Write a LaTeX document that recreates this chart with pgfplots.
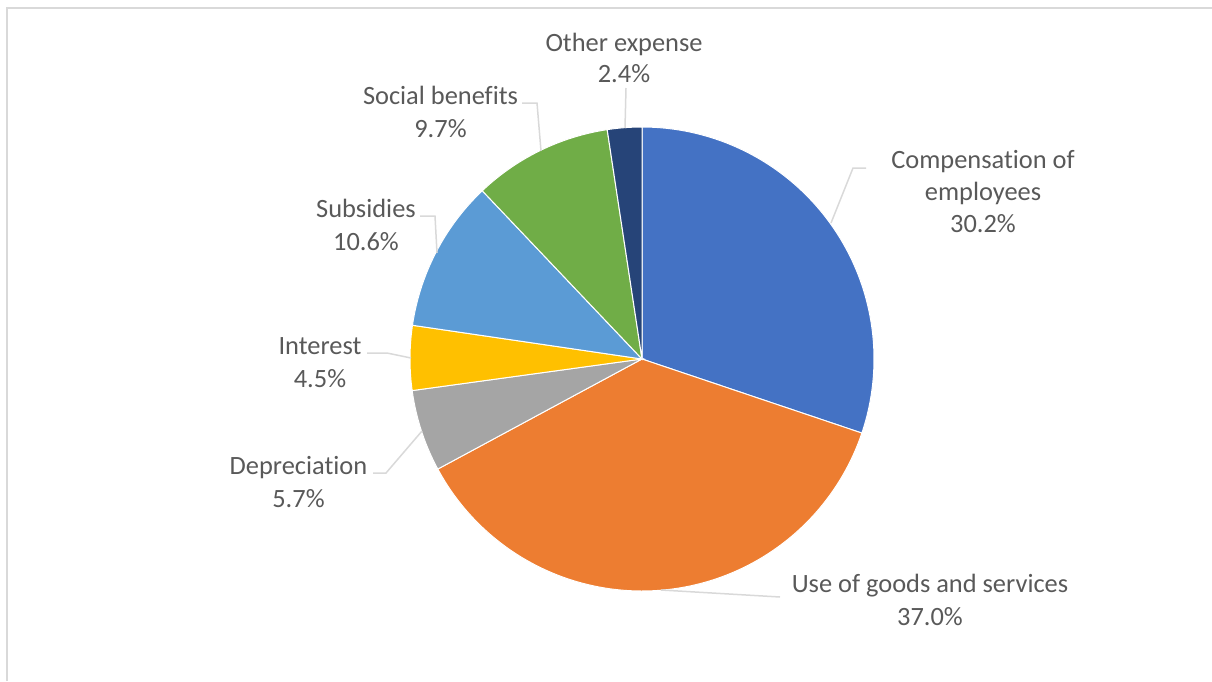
\documentclass[border=0pt]{standalone}
\usepackage{pgfplots}
\pgfplotsset{compat=1.18}
\usepackage{fontspec}
\setmainfont[Ligatures=NoCommon]{Carlito}
\definecolor{c1}{HTML}{4472C4}
\definecolor{c2}{HTML}{ED7D31}
\definecolor{c3}{HTML}{A5A5A5}
\definecolor{c4}{HTML}{FFC000}
\definecolor{c5}{HTML}{5B9BD5}
\definecolor{c6}{HTML}{70AD47}
\definecolor{c7}{HTML}{264478}
\definecolor{txt}{HTML}{595959}
\definecolor{lead}{HTML}{D9D9D9}
\definecolor{frame}{HTML}{D9D9D9}
% #1 = cumulative share before slice, #2 = share, #3 = colour (total 100.1)
\newcommand\pieslice[3]{%
  \pgfmathsetmacro\aS{90-(#1)/100.1*360}%
  \pgfmathsetmacro\aE{90-(#1+#2)/100.1*360}%
  \edef\temp{\noexpand\addplot[fill=#3, draw=white, line width=1pt, domain=\aE:\aS, samples=120, variable=\noexpand\t] ({642+232*cos(\noexpand\t)},{359-232*sin(\noexpand\t)}) -- (axis cs:642,359) -- cycle;}%
  \temp
}
\begin{document}
\begin{tikzpicture}[
  lbl/.style={text=txt, font=\fontsize{26.4}{32}\selectfont, anchor=base, inner sep=0pt},
  ld/.style={draw=lead, line width=1.5pt},
]
\begin{axis}[
  width=1212pt, height=681pt, scale only axis,
  xmin=0, xmax=1212, ymin=0, ymax=681, y dir=reverse,
  hide axis, clip=false,
]
\draw[draw=frame, line width=1.5pt] (axis cs:7,681) -- (axis cs:7,8) -- (axis cs:1212,8);
% values: Compensation 30.2, Use of goods 37.0, Depreciation 5.7, Interest 4.5, Subsidies 10.6, Social benefits 9.7, Other 2.4
\pieslice{0}{30.2}{c1}
\pieslice{30.2}{37.0}{c2}
\pieslice{67.2}{5.7}{c3}
\pieslice{72.9}{4.5}{c4}
\pieslice{77.4}{10.6}{c5}
\pieslice{88.0}{9.7}{c6}
\pieslice{97.7}{2.4}{c7}
% leader lines
\draw[ld] (axis cs:626,88) -- (axis cs:625,128);
\draw[ld] (axis cs:522,103) -- (axis cs:537,103) -- (axis cs:541,151);
\draw[ld] (axis cs:420,216) -- (axis cs:435,216) -- (axis cs:437,253);
\draw[ld] (axis cs:367,353) -- (axis cs:387,353) -- (axis cs:411,358);
\draw[ld] (axis cs:373,473) -- (axis cs:386,473) -- (axis cs:422,431);
\draw[ld] (axis cs:866,168) -- (axis cs:853,168) -- (axis cs:831,223);
\draw[ld] (axis cs:661,590) -- (axis cs:780,597);
% labels
\node[lbl] at (axis cs:624,51) {Other expense};
\node[lbl] at (axis cs:624,82) {2.4\%};
\node[lbl] at (axis cs:440.5,104) {Social benefits};
\node[lbl] at (axis cs:440.5,137) {9.7\%};
\node[lbl] at (axis cs:366,217) {Subsidies};
\node[lbl] at (axis cs:366,250) {10.6\%};
\node[lbl] at (axis cs:320,354) {Interest};
\node[lbl] at (axis cs:320,387) {4.5\%};
\node[lbl] at (axis cs:298.5,474) {Depreciation};
\node[lbl] at (axis cs:298.5,507) {5.7\%};
\node[lbl] at (axis cs:983,168) {Compensation of};
\node[lbl] at (axis cs:983,200) {employees};
\node[lbl] at (axis cs:983,232) {30.2\%};
\node[lbl] at (axis cs:930,592) {Use of goods and services};
\node[lbl] at (axis cs:930,625) {37.0\%};
\end{axis}
\pgfresetboundingbox
\path[use as bounding box] (current axis.south west) rectangle (current axis.north east);
\end{tikzpicture}
\end{document}
